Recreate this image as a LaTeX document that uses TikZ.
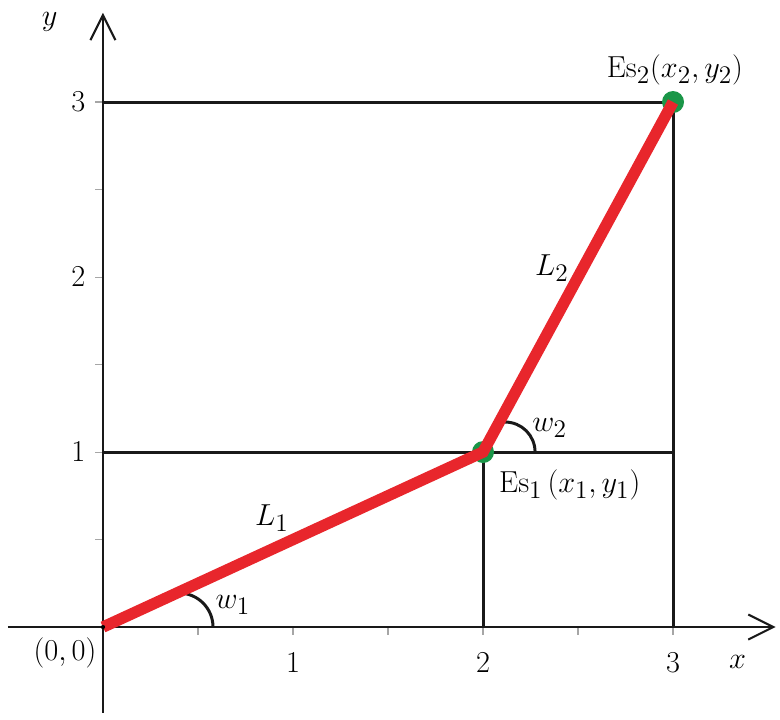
\documentclass[tikz,border=0pt]{standalone}
\usetikzlibrary{arrows.meta}
\begin{document}
\begin{tikzpicture}[x=3.8cm, y=3.5cm,
        font=\fontsize{19}{22}\selectfont,
        axis/.style={draw=black!90, line width=1.6pt, -{Straight Barb[length=5mm, width=5mm, line width=1.2pt]}},
        guide/.style={draw=black!90, line width=1.7pt},
        tick/.style={draw=black!35, line width=0.6pt},
        arm/.style={draw=armred, line width=6.5pt},
        joint/.style={circle, fill=jointgreen, minimum size=4.4mm, inner sep=0pt},
        anglearc/.style={draw=black!90, line width=1.7pt},
        lbl/.style={inner sep=1pt}
    ]
    \definecolor{armred}{RGB}{232,38,44}
    \definecolor{jointgreen}{RGB}{26,150,72}
    \useasboundingbox (-0.542,-0.531) rectangle (3.563,3.583);
    % points
    \coordinate (O) at (0,0);
    \coordinate (Es1) at (2,1);
    \coordinate (Es2) at (3,3);
    \coordinate (X2) at (2,0);
    \coordinate (X3) at (3,0);
    \coordinate (Y1) at (0,1);
    \coordinate (Y3) at (0,3);
    \coordinate (H1) at (3,1);
    \coordinate (xs) at (-0.5,0);
    \coordinate (xe) at (3.54,0);
    \coordinate (ys) at (0,-0.49);
    \coordinate (ye) at (0,3.51);
    \coordinate (a1) at (0.579,0);
    \coordinate (a2) at (2.274,1);
    % ticks
    \foreach \t in {0.5,1,...,3} {
        \draw[tick] (\t,0) -- ++(0,-1.6mm);
        \draw[tick] (0,\t) -- ++(-1.6mm,0);
    }
    % guides
    \draw[guide] (Y3) -- (Es2) -- (X3);
    \draw[guide] (Y1) -- (H1);
    \draw[guide] (Es1) -- (X2);
    % axes
    \draw[axis] (xs) -- (xe);
    \draw[axis] (ys) -- (ye);
    % angles
    \draw[anglearc] (a1) arc[start angle=0, end angle=90, radius=0.68cm];
    \draw[anglearc] (a2) arc[start angle=0, end angle=90, radius=0.6cm];
    % arm
    \node[joint] (J1) at (Es1) {};
    \node[joint] (J2) at (Es2) {};
    \draw[arm] (O) -- (Es1) -- (Es2);
    \fill[black] (O) circle (1.2pt);
    % labels
    \node[lbl] (origin) at (-0.2,-0.149) {$(0,0)$};
    \foreach \t in {1,2,3} {
        \node[lbl] (xl\t) at (\t,-0.206) {$\t$};
        \node[lbl] (yl\t) at (-0.13,\t) {$\t$};
    }
    \node[lbl] (xname) at (3.34,-0.2) {$x$};
    \node[lbl] (yname) at (-0.28,3.457) {$y$};
    \node[lbl] (L1) at (0.889,0.623) {$L_1$};
    \node[lbl] (L2) at (2.363,2.051) {$L_2$};
    \node[lbl] (w1) at (0.684,0.126) {$w_1$};
    \node[lbl] (w2) at (2.35,1.137) {$w_2$};
    \node[lbl, anchor=west] (es1) at (2.074,0.811) {$\mathrm{Es}_1\,(x_1,y_1)$};
    \node[lbl] (es2) at (3.01,3.183) {$\mathrm{Es}_2(x_2,y_2)$};
\end{tikzpicture}
\end{document}
